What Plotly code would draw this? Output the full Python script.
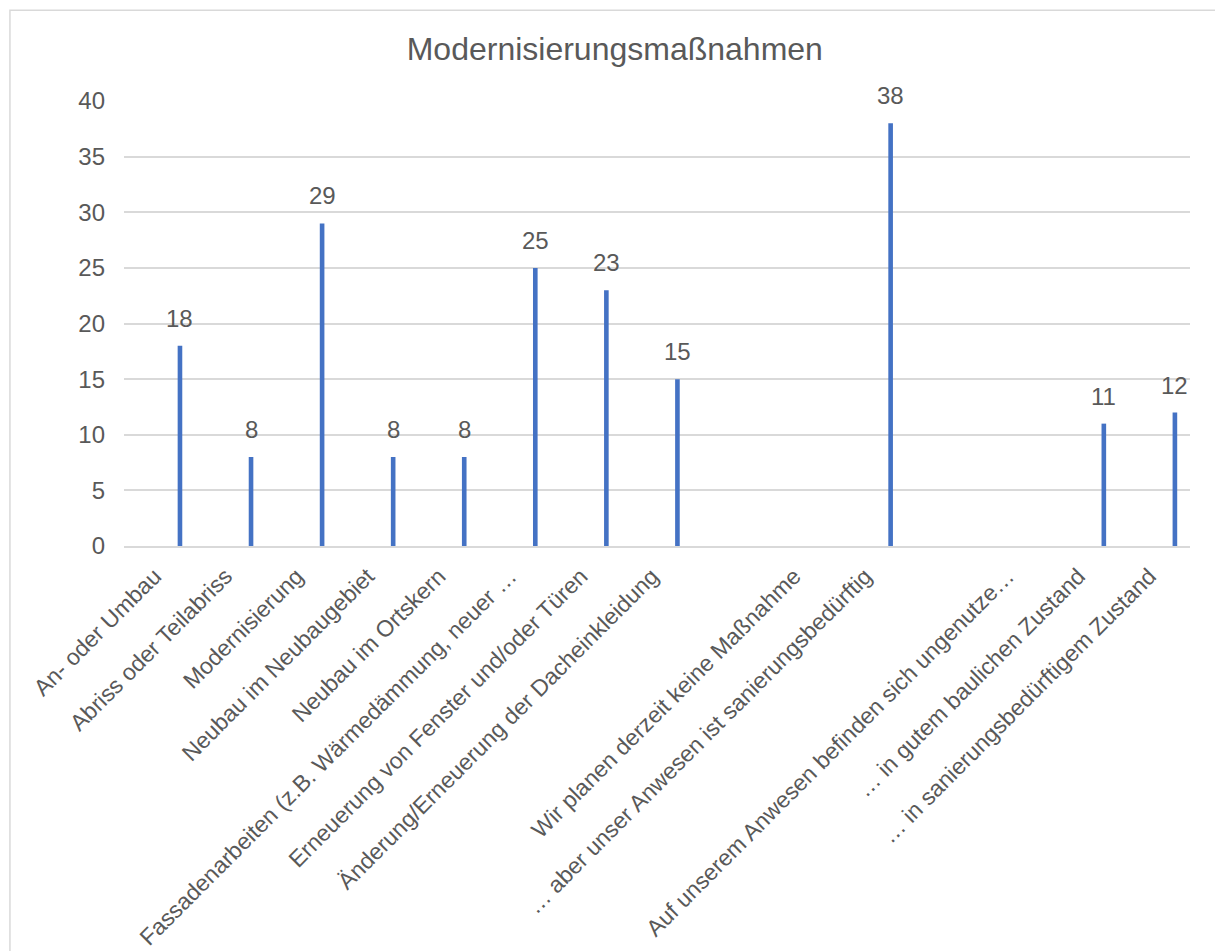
import plotly.graph_objects as go

categories = [
    "An- oder Umbau",
    "Abriss oder Teilabriss",
    "Modernisierung",
    "Neubau im Neubaugebiet",
    "Neubau im Ortskern",
    "Fassadenarbeiten (z.B. Wärmedämmung, neuer …",
    "Erneuerung von Fenster und/oder Türen",
    "Änderung/Erneuerung der Dacheinkleidung",
    "",
    "Wir planen derzeit keine Maßnahme",
    "… aber unser Anwesen ist sanierungsbedürftig",
    "",
    "Auf unserem Anwesen befinden sich ungenutze…",
    "… in gutem baulichen Zustand",
    "… in sanierungsbedürftigem Zustand",
]
values = [18, 8, 29, 8, 8, 25, 23, 15, None, None, 38, None, None, 11, 12]
y_ticks = [0, 5, 10, 15, 20, 25, 30, 35, 40]
title_text = "Modernisierungsmaßnahmen"

positions = list(range(len(categories)))
BAR_W = 0.065
BAR_OFF = 0.255
LABEL_SHIFT = -0.07
TXT = "#595959"
GRID = "#D9D9D9"
FONT = "Liberation Sans, Arial, sans-serif"

fig = go.Figure()
fig.add_trace(go.Bar(
    x=positions, y=values, width=BAR_W, offset=BAR_OFF,
    marker=dict(color="#4472C4", line=dict(width=0)),
    hoverinfo="skip", showlegend=False,
))

for p, v in zip(positions, values):
    if v is None:
        continue
    fig.add_annotation(
        x=p + BAR_OFF + BAR_W / 2, y=v, xref="x", yref="y",
        text=str(v), showarrow=False, yanchor="bottom", yshift=12,
        font=dict(family=FONT, size=24, color=TXT),
    )

fig.add_shape(
    type="rect", xref="paper", yref="paper",
    x0=-0.107, x1=1.1, y0=-1.2, y1=1.2037,
    line=dict(color=GRID, width=1.5), fillcolor="rgba(0,0,0,0)", layer="below",
)

fig.update_layout(
    width=1215, height=951,
    margin=dict(l=124, r=25, t=101, b=405, autoexpand=False),
    paper_bgcolor="white", plot_bgcolor="white",
    title=dict(text=title_text, x=0.506, xanchor="center", xref="container",
               y=1 - 49 / 951, yanchor="middle", yref="container",
               font=dict(family=FONT, size=32, color=TXT)),
    font=dict(family=FONT, color=TXT),
    xaxis=dict(
        range=[-0.5, len(categories) - 0.5], automargin=False,
        tickmode="array", tickvals=[p + LABEL_SHIFT for p in positions],
        ticktext=categories,
        tickangle=-45, tickfont=dict(family=FONT, size=23, color=TXT),
        showgrid=False, zeroline=False,
        showline=True, linecolor=GRID, linewidth=1.5,
        ticks="", ticklabelstandoff=6,
    ),
    yaxis=dict(
        range=[0, 40], tickmode="array", tickvals=y_ticks, automargin=False,
        tickfont=dict(family=FONT, size=24, color=TXT),
        showgrid=True, gridcolor=GRID, gridwidth=1.5,
        zeroline=False, showline=False, ticks="",
        ticklabelstandoff=18,
    ),
)

fig.write_html("out.html")
